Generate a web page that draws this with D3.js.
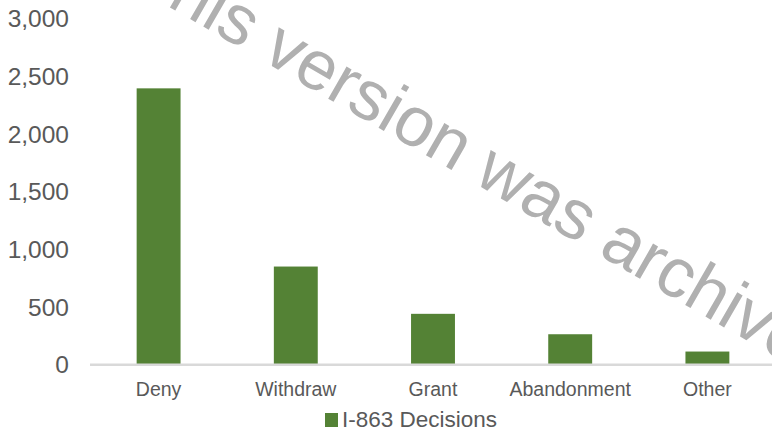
<!DOCTYPE html>
<html>
<head>
<meta charset="utf-8">
<script src="https://cdn.jsdelivr.net/npm/d3@7"></script>
<style>
  html, body { margin: 0; padding: 0; background: #ffffff; }
  svg { display: block; }
</style>
</head>
<body>
<svg id="chart" width="772" height="434"></svg>
<script>
const categories = ["Deny", "Withdraw", "Grant", "Abandonment", "Other"];
const values = [2390, 845, 435, 258, 108];
const yTicks = [0, 500, 1000, 1500, 2000, 2500, 3000];
const seriesName = "I-863 Decisions";
const watermarkText = "This version was archived";

const svg = d3.select("#chart");
const W = 772, H = 434;
const plotLeft = 90, plotRight = 776, plotTop = 18, plotBottom = 364;
const font = "'Liberation Sans', Arial, sans-serif";
const green = "#548235";

const x = d3.scaleBand().domain(categories).range([plotLeft, plotRight])
  .paddingInner(0.68).paddingOuter(0.34);
const y = d3.scaleLinear().domain([0, 3000]).range([plotBottom, plotTop]);

// y axis labels
const yAxis = d3.axisLeft(y).tickValues(yTicks).tickSize(0).tickPadding(0)
  .tickFormat(d3.format(","));
const gy = svg.append("g").attr("transform", `translate(69,0)`).call(yAxis);
gy.select(".domain").remove();
gy.selectAll("text")
  .attr("fill", "#595959")
  .style("font-family", font)
  .style("font-size", "24.5px")
  .attr("dy", "0.36em");

// bars
svg.append("g").selectAll("rect").data(categories).join("rect")
  .attr("x", d => x(d))
  .attr("width", x.bandwidth())
  .attr("y", (d, i) => y(values[i]))
  .attr("height", (d, i) => y(0) - y(values[i]))
  .attr("fill", green);

// x axis
const xAxis = d3.axisBottom(x).tickSize(0).tickPadding(0);
const gx = svg.append("g").attr("transform", `translate(0,${plotBottom})`).call(xAxis);
gx.select(".domain").remove();
gx.selectAll("text")
  .attr("fill", "#595959")
  .attr("y", 32)
  .attr("dy", 0)
  .style("font-family", font)
  .style("font-size", "19.5px");

svg.append("line")
  .attr("x1", plotLeft).attr("x2", W)
  .attr("y1", plotBottom + 0.8).attr("y2", plotBottom + 0.8)
  .attr("stroke", "#d9d9d9").attr("stroke-width", 2.5);

// legend
const lg = svg.append("g");
lg.append("rect").attr("x", 325).attr("y", 413).attr("width", 13).attr("height", 14).attr("fill", green);
lg.append("text").attr("x", 342).attr("y", 427)
  .attr("fill", "#595959")
  .style("font-family", font).style("font-size", "22.5px")
  .text(seriesName);

// watermark
svg.append("text")
  .attr("transform", "translate(128.6,-16.5) rotate(30)")
  .attr("x", 0).attr("y", 0)
  .attr("fill", "#b0b0b0")
  .style("font-family", font)
  .style("font-size", "70px")
  .text(watermarkText);
</script>
</body>
</html>
